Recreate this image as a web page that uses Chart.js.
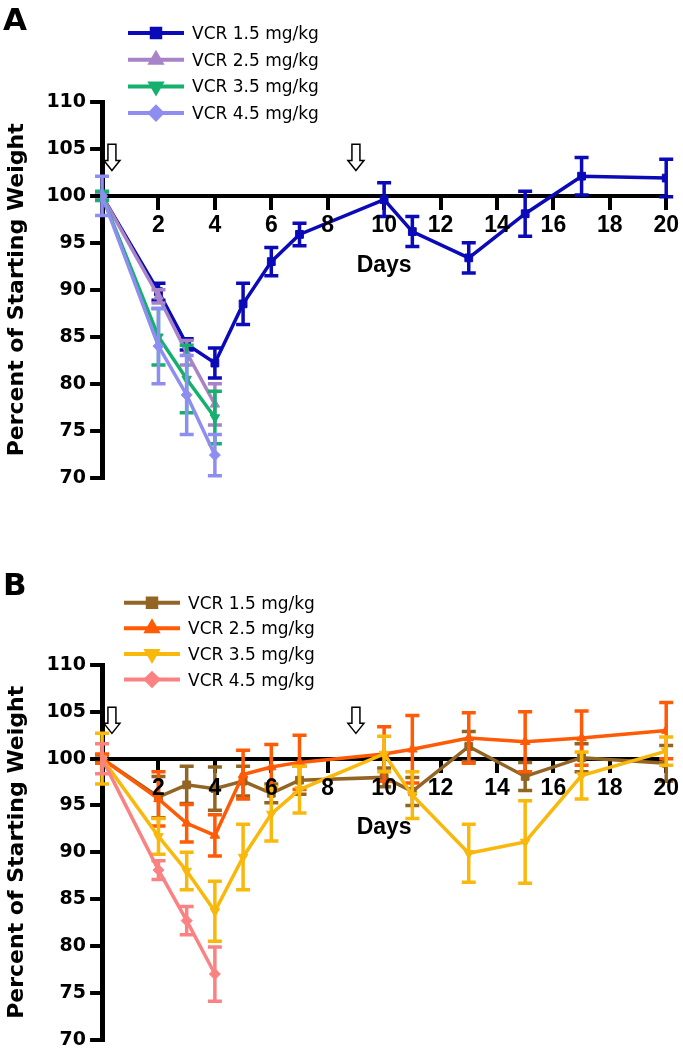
<!DOCTYPE html>
<html>
<head>
<meta charset="utf-8">
<script src="https://cdn.jsdelivr.net/npm/chart.js@4.4.0/dist/chart.umd.min.js"></script>
<style>
  html, body { margin: 0; padding: 0; background: #fff; overflow: hidden; }
  #wrapA { position: absolute; left: 0; top: 0; }
  #wrapB { position: absolute; left: 0; top: 540px; }
</style>
</head>
<body>
<div id="wrapA"><canvas id="chartA" width="683" height="493"></canvas></div>
<div id="wrapB"><canvas id="chartB" width="683" height="515"></canvas></div>
<script>
// days weighed
const daysAll = [0, 2, 3, 4, 5, 6, 7, 10, 11, 13, 15, 17, 20];
const daysEarly = [0, 2, 3, 4];
const doses = ['VCR 1.5 mg/kg', 'VCR 2.5 mg/kg', 'VCR 3.5 mg/kg', 'VCR 4.5 mg/kg'];

// axis ranges
const yMin = 70, yMax = 110, yStep = 5;
const xMin = 0, xMax = 20, xStep = 2;

// injection arrows (day, top, tip in % units)
const injectionDays = [0.35, 9];
const arrowTop = 105.5, arrowTip = 102.7;

// panel A - mean % of starting weight and SEM
const a15 = [100, 89.8, 84.2, 82.2, 88.5, 93.0, 95.9, 99.6, 96.2, 93.4, 98.1, 102.1, 101.9];
const a15Err = [0.4, 0.9, 0.6, 1.6, 2.2, 1.5, 1.2, 1.8, 1.6, 1.6, 2.4, 2.0, 2.0];
const a25 = [100, 89.3, 83.3, 77.8];
const a25Err = [0.4, 0.7, 1.3, 2.2];
const a35 = [100, 85.0, 80.5, 76.4];
const a35Err = [0.5, 3.0, 3.6, 2.8];
const a45 = [100, 84.0, 78.8, 72.4];
const a45Err = [2.1, 4.0, 4.2, 2.2];

// panel B - mean % of starting weight and SEM
const b15 = [100, 95.9, 97.2, 96.8, 97.6, 96.3, 97.7, 98.0, 96.5, 101.3, 98.1, 100.1, 99.5];
const b15Err = [0.4, 2.2, 2.0, 2.3, 1.6, 1.0, 1.5, 1.0, 1.5, 1.6, 1.5, 1.5, 1.9];
const b25 = [100, 95.7, 93.1, 91.8, 98.3, 99.1, 99.6, 100.5, 101.0, 102.2, 101.8, 102.2, 103.0];
const b25Err = [0.5, 2.9, 2.0, 2.2, 2.6, 2.4, 2.9, 2.9, 3.6, 2.7, 3.2, 2.9, 3.0];
const b35 = [100, 91.7, 88.0, 83.7, 89.5, 94.1, 96.7, 100.5, 96.1, 89.9, 91.1, 98.2, 100.8];
const b35Err = [2.7, 1.9, 2.0, 3.2, 3.5, 2.9, 2.5, 1.9, 2.5, 3.1, 4.4, 2.5, 1.5];
const b45 = [100, 88.1, 82.7, 77.0];
const b45Err = [1.6, 1.0, 1.5, 2.9];

const colorsA = ['#0A0AB8', '#A983C8', '#14B06E', '#8E8EF0'];
const colorsB = ['#936524', '#FF5A05', '#F8B80C', '#FA8282'];

const markers = [
    { pointStyle: 'rect', rotation: 0 },
    { pointStyle: 'triangle', rotation: 0 },
    { pointStyle: 'triangle', rotation: 180 },
    { pointStyle: 'rectRot', rotation: 0 }
];

Chart.defaults.font.family = 'DejaVu Sans';
Chart.defaults.color = '#000';

function series(i, days, vals, errs, color) {
    return {
        label: doses[i],
        data: days.map((d, k) => ({ x: d, y: vals[k] })),
        errors: errs,
        borderColor: color,
        backgroundColor: color,
        borderWidth: 3.5,
        pointStyle: markers[i].pointStyle,
        rotation: markers[i].rotation,
        pointRadius: 5.5,
        pointBorderWidth: 1,
        pointHoverRadius: 5.5,
        order: 3 - i // later doses drawn on top
    };
}

// vertical SEM bars with caps, drawn with each dataset
const errorBars = {
    id: 'errorBars',
    afterDatasetDraw(chart, args) {
        const ds = chart.data.datasets[args.index];
        if (!ds.errors) return;
        const { ctx, scales: { x, y } } = chart;
        ctx.save();
        ctx.strokeStyle = ds.borderColor;
        ctx.lineWidth = 3.5;
        ds.data.forEach((p, k) => {
            const e = ds.errors[k];
            const px = x.getPixelForValue(p.x);
            const top = y.getPixelForValue(p.y + e);
            const bot = y.getPixelForValue(p.y - e);
            ctx.beginPath();
            ctx.moveTo(px, top); ctx.lineTo(px, bot);
            ctx.moveTo(px - 7, top); ctx.lineTo(px + 7, top);
            ctx.moveTo(px - 7, bot); ctx.lineTo(px + 7, bot);
            ctx.stroke();
        });
        ctx.restore();
    }
};

// hollow arrows marking the injections
const arrows = {
    id: 'arrows',
    afterDatasetsDraw(chart) {
        const { ctx, scales: { x, y } } = chart;
        const top = y.getPixelForValue(arrowTop);
        const tip = y.getPixelForValue(arrowTip);
        const neck = tip - 10;
        ctx.save();
        ctx.fillStyle = '#fff';
        ctx.strokeStyle = '#000';
        ctx.lineWidth = 1.5;
        injectionDays.forEach(d => {
            const cx = x.getPixelForValue(d);
            ctx.beginPath();
            ctx.moveTo(cx - 4, top);
            ctx.lineTo(cx + 4, top);
            ctx.lineTo(cx + 4, neck);
            ctx.lineTo(cx + 8, neck);
            ctx.lineTo(cx, tip);
            ctx.lineTo(cx - 8, neck);
            ctx.lineTo(cx - 4, neck);
            ctx.closePath();
            ctx.fill();
            ctx.stroke();
        });
        ctx.restore();
    }
};

// panel letter and the legend block above the plot
const sideLegend = {
    id: 'sideLegend',
    afterDraw(chart, args, opts) {
        const ctx = chart.ctx;
        ctx.save();
        ctx.fillStyle = '#000';
        ctx.font = 'bold 31px "DejaVu Sans"';
        ctx.textBaseline = 'top';
        ctx.textAlign = 'left';
        ctx.fillText(opts.letter, 3, opts.letterTop);

        ctx.font = '17px "DejaVu Sans"';
        ctx.textBaseline = 'alphabetic';
        chart.data.datasets.forEach((ds, i) => {
            const yy = opts.top + i * opts.gap;
            ctx.strokeStyle = ds.borderColor;
            ctx.fillStyle = ds.borderColor;
            ctx.lineWidth = 4;
            ctx.beginPath();
            ctx.moveTo(opts.left, yy);
            ctx.lineTo(opts.left + 56, yy);
            ctx.stroke();
            Chart.helpers.drawPoint(ctx, {
                pointStyle: ds.pointStyle, rotation: ds.rotation, radius: 6, borderWidth: 1
            }, opts.left + 28, yy);
            ctx.fillStyle = '#000';
            ctx.fillText(ds.label, opts.textLeft, yy + 6);
        });
        ctx.restore();
    }
};

function makeChart(id, datasets, legendOpts, padding) {
    return new Chart(document.getElementById(id), {
        type: 'line',
        data: { datasets: datasets },
        plugins: [errorBars, arrows, sideLegend],
        options: {
            responsive: false,
            animation: false,
            events: [],
            layout: { padding: padding },
            plugins: {
                legend: { display: false },
                tooltip: { enabled: false },
                sideLegend: legendOpts
            },
            scales: {
                x: {
                    type: 'linear',
                    min: xMin,
                    max: xMax,
                    position: { y: 100 },
                    grid: { drawOnChartArea: false, drawTicks: true, tickLength: 12, lineWidth: 4, color: '#000' },
                    border: { display: true, width: 4, color: '#000' },
                    ticks: {
                        stepSize: xStep,
                        padding: 4,
                        z: 1,
                        font: { family: 'Liberation Sans', size: 23, weight: 'bold' },
                        callback: v => (v === 0 ? '' : v)
                    },
                    title: {
                        display: true,
                        text: 'Days',
                        font: { family: 'Liberation Sans', size: 23, weight: 'bold' },
                        padding: { top: 8, bottom: 0 }
                    }
                },
                y: {
                    type: 'linear',
                    min: yMin,
                    max: yMax,
                    grid: { drawOnChartArea: false, drawTicks: true, tickLength: 12, lineWidth: 4, color: '#000' },
                    border: { display: true, width: 5, color: '#000' },
                    ticks: {
                        stepSize: yStep,
                        padding: 4,
                        font: { family: 'DejaVu Sans', size: 19, weight: 'bold' }
                    },
                    title: {
                        display: true,
                        text: 'Percent of Starting Weight',
                        font: { family: 'DejaVu Sans', size: 22, weight: 'bold' },
                        padding: { top: 2, bottom: 12 }
                    }
                }
            }
        }
    });
}

makeChart('chartA', [
    series(0, daysAll, a15, a15Err, colorsA[0]),
    series(1, daysEarly, a25, a25Err, colorsA[1]),
    series(2, daysEarly, a35, a35Err, colorsA[2]),
    series(3, daysEarly, a45, a45Err, colorsA[3])
], { letter: 'A', letterTop: 6, left: 128, textLeft: 192, top: 33, gap: 26.7 },
   { left: 2, top: 102, right: 13, bottom: 3 });

makeChart('chartB', [
    series(0, daysAll, b15, b15Err, colorsB[0]),
    series(1, daysAll, b25, b25Err, colorsB[1]),
    series(2, daysAll, b35, b35Err, colorsB[2]),
    series(3, daysEarly, b45, b45Err, colorsB[3])
], { letter: 'B', letterTop: 31, left: 124, textLeft: 188, top: 62.7, gap: 25.6 },
   { left: 2, top: 125, right: 13, bottom: 2 });
</script>
</body>
</html>
